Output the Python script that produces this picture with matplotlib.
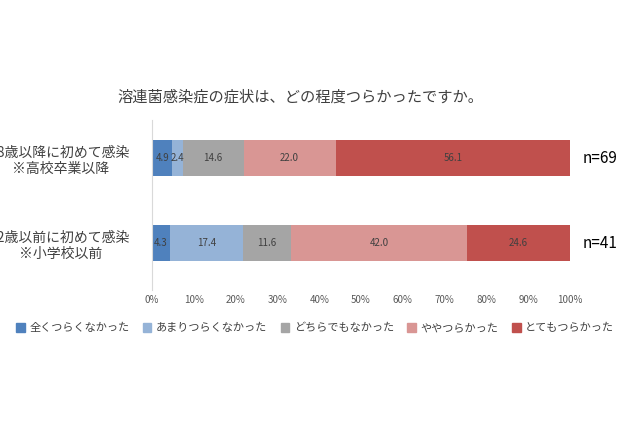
import matplotlib
matplotlib.use("Agg")
import matplotlib.pyplot as plt
from matplotlib.patches import Rectangle

plt.rcParams['font.family'] = 'Noto Sans CJK JP'

rows = ["18歳以降に初めて感染\n※高校卒業以降", "12歳以前に初めて感染\n※小学校以前"]
ns = ["n=69", "n=41"]
series = ["全くつらくなかった", "あまりつらくなかった", "どちらでもなかった", "ややつらかった", "とてもつらかった"]
vals_18 = [4.9, 2.4, 14.6, 22.0, 56.1]
vals_12 = [4.3, 17.4, 11.6, 42.0, 24.6]
colors = ["#4f81bd", "#95b3d7", "#a5a5a5", "#d99694", "#c0504d"]
ticks = [0, 10, 20, 30, 40, 50, 60, 70, 80, 90, 100]

fig = plt.figure(figsize=(6.4, 4.26), dpi=100)
ax = fig.add_axes([152/640, 1-290/426, 418/640, 170/426])
data = [vals_18, vals_12]
ypos = [1, 0]
for y, v in zip(ypos, data):
    left = 0
    for i, val in enumerate(v):
        ax.barh(y, val, left=left, color=colors[i], height=0.42)
        ax.text(left + val/2, y, f"{val:.1f}", ha="center", va="center", fontsize=7, color="#404040")
        left += val
for y, n in zip(ypos, ns):
    ax.text(103, y, n, ha="left", va="center", fontsize=11, color="#000000")
ax.set_xlim(0, 100)
ax.set_ylim(-0.55, 1.45)
ax.set_yticks(ypos)
ax.set_yticklabels(rows, fontsize=10, color="#404040", ha="center")
ax.tick_params(axis="y", length=0, pad=66)
ax.set_xticks(ticks)
ax.set_xticklabels([f"{t}%" for t in ticks], fontsize=7, color="#595959")
ax.tick_params(axis="x", length=0)
for s in ["top", "right", "bottom"]:
    ax.spines[s].set_visible(False)
ax.spines["left"].set_color("#d9d9d9")
fig.text(300/640, 1-97/426, "溶連菌感染症の症状は、どの程度つらかったですか。", ha="center", va="center",
         fontsize=11, color="#404040")
handles = [Rectangle((0, 0), 1, 1, color=c) for c in colors]
fig.legend(handles, series, loc="center", bbox_to_anchor=(315/640, 1-328/426), ncol=5,
           frameon=False, fontsize=8, handlelength=0.8, handleheight=0.8, columnspacing=1.2,
           handletextpad=0.4, labelcolor="#404040")
fig.savefig("out.png", dpi=100)
